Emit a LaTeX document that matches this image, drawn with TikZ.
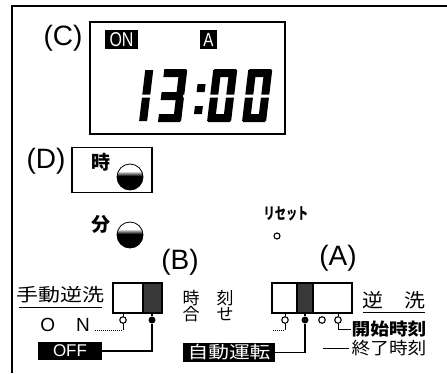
\documentclass[tikz,border=0pt]{standalone}
\usepackage{fontspec}
\setmainfont{Liberation Sans}
\newfontfamily\jp{Noto Sans CJK JP}
\newfontfamily\jpw[FakeStretch=1.22]{Noto Sans CJK JP}
\newfontfamily\jpm[FakeStretch=1.1]{Noto Sans CJK JP}
\newfontfamily\jpn[FakeStretch=0.7]{Noto Sans CJK JP}
\newfontfamily\narrowsans[FakeStretch=0.8]{Liberation Sans}
\newcommand\sgA{\fill (1,-53) rectangle (23,-45);}
\newcommand\sgB{\fill (16,-52) rectangle (24,-27.5);}
\newcommand\sgC{\fill (16,-24.5) rectangle (24,-1);}
\newcommand\sgD{\fill (1,-8) rectangle (23,0);}
\newcommand\sgE{\fill (0,-24.5) rectangle (8,-1);}
\newcommand\sgF{\fill (0,-52) rectangle (8,-27.5);}
\newcommand\sgG{\fill (1,-30) rectangle (23,-22);}
\tikzset{
  lbl/.style={inner sep=0, font=\fontsize{28}{28}\selectfont},
  jtxt/.style={inner sep=0, font=\fontsize{19}{19}\selectfont\jp\bfseries},
  pinO/.style={circle, draw, line width=1.1pt, minimum size=6.5pt, inner sep=0, fill=white},
  pinF/.style={circle, fill=black, minimum size=7pt, inner sep=0},
  conn/.style={line width=1.4pt},
  thinconn/.style={line width=1pt},
  blackbox/.style={fill=black, text=white, inner sep=0},
  swbox/.style={draw, line width=1.4pt, inner sep=0},
  dark/.style={fill=black!78},
  knob/.style={circle, minimum size=26pt, inner sep=0, draw, line width=0.8pt, fill=black,
    path picture={
      \fill[white] (path picture bounding box.north west) rectangle ([yshift=6pt]path picture bounding box.east);
      \shade[top color=white, bottom color=black]
        ([yshift=6pt]path picture bounding box.west) rectangle ([yshift=1pt]path picture bounding box.east);}},
}
\begin{document}
\begin{tikzpicture}[x=1pt,y=-1pt]
\useasboundingbox (0,0) rectangle (447,373);
% outer frame
\draw[line width=1.6pt] (12,373) -- (12,6) -- (447,6);

% (C) LCD
\node[lbl] (lc) at (63,38) {(C)};
\node[draw, line width=1.6pt, minimum width=195, minimum height=112, inner sep=0] (lcd) at (187.5,78) {};
\node[blackbox, minimum width=33, minimum height=19, font=\fontsize{20}{20}\selectfont\narrowsans] (onbox) at (121.5,39.5) {ON};
\node[blackbox, minimum width=17, minimum height=19, font=\fontsize{19}{19}\selectfont\narrowsans] (abox) at (208.5,39.5) {A};
% digits 13:00
\begin{scope}[shift={(123,122)}, xslant=0.12] \sgB \sgC \end{scope}
\begin{scope}[shift={(157,122)}, xslant=0.12] \sgA \sgB \sgC \sgD \sgG \end{scope}
\begin{scope}[shift={(192,122)}, xslant=0.12]
  \fill (1,-38) rectangle (9,-30);
  \fill (1,-16) rectangle (9,-8);
\end{scope}
\begin{scope}[shift={(207,122)}, xslant=0.12] \sgA \sgB \sgC \sgD \sgE \sgF \end{scope}
\begin{scope}[shift={(242,122)}, xslant=0.12] \sgA \sgB \sgC \sgD \sgE \sgF \end{scope}

% (D) hour knob
\node[lbl] (ld) at (46,161) {(D)};
\node[draw, line width=1.4pt, minimum width=80, minimum height=45, inner sep=0] (dbox) at (112,170) {};
\node[jtxt] (ji) at (101,162) {時};
\node[knob] (hknob) at (130,177) {};
% minute knob
\node[jtxt] (fun) at (101,224) {分};
\node[knob] (mknob) at (130,235) {};
% reset
\node[inner sep=0, font=\fontsize{16}{16}\selectfont\jpn\bfseries] (reset) at (286,214) {リセット};
\node[pinO, minimum size=6pt] (rhole) at (277,236) {};

% (B) switch
\node[lbl] (lb) at (180,262) {(B)};
\fill[dark] (143,283) rectangle (162,313);
\node[swbox, minimum width=49, minimum height=30] (bsw) at (137.5,298) {};
\draw[line width=1.2pt] (143,283) -- (143,313);
\node[inner sep=0, font=\fontsize{18}{18}\selectfont\jpw] (manual) at (60.5,295) {手動逆洗};
\draw[thinconn] (19,307) -- (102,307);
\node[pinO] (bp1) at (123,320) {};
\node[pinF] (bp2) at (152,320) {};
\draw[thinconn] (bp1.north) -- (bp1.north |- bsw.south);
\draw[conn] (bp2.north) -- (bp2.north |- bsw.south);
\node[inner sep=0, font=\fontsize{19}{19}\selectfont] (on) at (65,325) {O\hspace{21pt}N};
\coordinate (onend) at (95,330);
\draw[thinconn, densely dotted] (onend) -- (onend -| bp1);
\draw[thinconn] (onend -| bp1) -- (bp1.south);
\node[blackbox, minimum width=64, minimum height=18, font=\fontsize{17}{17}\selectfont] (off) at (70,351) {OFF};
\draw[conn] (off.east) -| (bp2.south);

% middle text
\node[inner sep=0, font=\fontsize{17}{17}\selectfont\jp] (jikoku) at (208,298) {時　刻};
\node[inner sep=0, font=\fontsize{17}{17}\selectfont\jp] (awase) at (208,314) {合　せ};
\node[blackbox, minimum width=92, minimum height=19, font=\fontsize{17}{17}\selectfont\jpw] (auto) at (229,352.5) {自動運転};

% (A) switch
\node[lbl] (la) at (338,258) {(A)};
\fill[dark] (297,283) rectangle (313,313);
\node[swbox, minimum width=80, minimum height=30] (asw) at (312,298) {};
\draw[line width=1.2pt] (297,283) -- (297,313);
\draw[line width=1.2pt] (313,283) -- (313,313);
\node[pinO] (ap1) at (285,320) {};
\node[pinF] (ap2) at (305,320) {};
\node[pinO] (ap3) at (322,320) {};
\node[pinO] (ap4) at (338,320) {};
\draw[thinconn] (ap1.north) -- (ap1.north |- asw.south);
\draw[conn] (ap2.north) -- (ap2.north |- asw.south);
\draw[thinconn] (ap4.north) -- (ap4.north |- asw.south);
\coordinate (awend) at (273,330);
\draw[thinconn, densely dotted] (awend) -- (awend -| ap1);
\draw[thinconn] (awend -| ap1) -- (ap1.south);
\draw[conn] (auto.east) -| (ap2.south);
\node[inner sep=0, font=\fontsize{19}{19}\selectfont\jpm] (gyaku) at (394,300) {逆　洗};
\draw[thinconn] (363,312) -- (425,312);
\node[inner sep=0, font=\fontsize{17}{17}\selectfont\jpm\bfseries] (kaishi) at (389,329) {開始時刻};
\draw[thinconn] (ap4.south) |- (kaishi.west);
\node[inner sep=0, font=\fontsize{17}{17}\selectfont\jpm] (shuryo) at (389,348) {終了時刻};
\coordinate (shuend) at (323,348);
\draw[thinconn] (shuend) -- ([xshift=-2pt]shuryo.west);
\end{tikzpicture}
\end{document}
